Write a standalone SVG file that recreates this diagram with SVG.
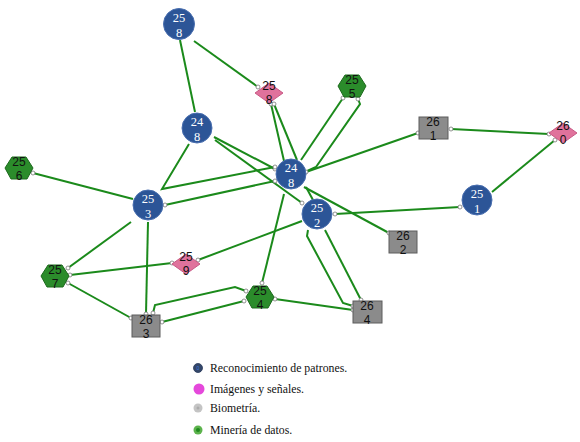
<svg xmlns="http://www.w3.org/2000/svg" width="580" height="442" viewBox="0 0 580 442">
<defs>
<marker id="m" markerWidth="6" markerHeight="6" refX="3" refY="3" markerUnits="userSpaceOnUse"><circle cx="3" cy="3" r="2" fill="#fff" stroke="#777" stroke-width="0.8"/></marker>
<style>
.e{fill:none;stroke:#1b8a1b;stroke-width:2}
.s{marker-start:url(#m)}
.t{marker-end:url(#m)}
.b{fill:#2c5597;stroke:#4a6fb0;stroke-width:1}
.p{fill:#e0729c;stroke:#c85a86;stroke-width:1}
.g{fill:#2b8c2b;stroke:#1d6a1d;stroke-width:1}
.q{fill:#8b8b8b;stroke:#5c5c5c;stroke-width:1}
.wt{font-family:"Liberation Serif",serif;font-size:12.5px;fill:#fff;text-anchor:middle}
.kt{font-family:"Liberation Sans",sans-serif;font-size:12px;fill:#111;text-anchor:middle}
.lt{font-family:"Liberation Serif",serif;font-size:11.8px;fill:#111}
</style>
</defs>
<rect width="580" height="442" fill="#fff"/>
<g id="edges">
<path class="e" d="M180,40 L195,112"/>
<path class="e t" d="M194,41 L258,87"/>
<path class="e s" d="M271,104 L284,161"/>
<path class="e s" d="M274,104 L297,160"/>
<path class="e s" d="M343,98 L301,160"/>
<path class="e s" d="M358,99 L360,104 L316,167 L305,172"/>
<path class="e s t" d="M306,172 L418,133"/>
<path class="e s t" d="M451,129 L549,134"/>
<path class="e s" d="M555,140 L492,192"/>
<path class="e s t" d="M335,214 L460,207"/>
<path class="e t" d="M214,137 L275,169"/>
<path class="e t" d="M215,140 L302,203"/>
<path class="e t" d="M189,144 L162,189 L275,167"/>
<path class="e s t" d="M165,205 L275,181"/>
<path class="e s" d="M33,173 L133,199"/>
<path class="e t" d="M131,222 L68,268"/>
<path class="e t" d="M148,222 L146,314"/>
<path class="e s t" d="M70,275 L172,263"/>
<path class="e s" d="M198,260 L302,221"/>
<path class="e s t" d="M68,283 L131,318"/>
<path class="e s t" d="M153,313 L155,305 L235,287 L246,291"/>
<path class="e s t" d="M162,322 L244,301"/>
<path class="e t" d="M284,194 L262,283"/>
<path class="e s t" d="M275,299 L353,310"/>
<path class="e t" d="M308,230 L307,236 L343,303 L353,306"/>
<path class="e t" d="M325,230 L361,300"/>
<path class="e" d="M306,187 L313,200"/>
<path class="e t" d="M304,187 L389,233"/>
</g>
<g id="n258b"><circle class="b" cx="179" cy="24" r="15.5"/><text class="wt" x="179" y="22">25</text><text class="wt" x="179" y="37">8</text></g>
<g id="n248t"><circle class="b" cx="197" cy="128" r="15"/><text class="wt" x="197" y="126">24</text><text class="wt" x="197" y="141">8</text></g>
<g id="n248c"><circle class="b" cx="291" cy="174" r="15"/><text class="wt" x="291" y="172">24</text><text class="wt" x="291" y="187">8</text></g>
<g id="n253"><circle class="b" cx="148" cy="205" r="15"/><text class="wt" x="148" y="203">25</text><text class="wt" x="148" y="218">3</text></g>
<g id="n252"><circle class="b" cx="317" cy="214" r="15"/><text class="wt" x="317" y="212">25</text><text class="wt" x="317" y="227">2</text></g>
<g id="n251"><circle class="b" cx="477" cy="200" r="15"/><text class="wt" x="477" y="198">25</text><text class="wt" x="477" y="213">1</text></g>
<g id="n258d"><polygon class="p" points="255,93 269,83 283,93 269,103"/><text class="kt" x="269" y="90">25</text><text class="kt" x="269" y="104">8</text></g>
<g id="n260"><polygon class="p" points="549,133 563,123 577,133 563,143"/><text class="kt" x="563" y="130">26</text><text class="kt" x="563" y="144">0</text></g>
<g id="n259"><polygon class="p" points="172,264 186,254 200,264 186,274"/><text class="kt" x="186" y="261">25</text><text class="kt" x="186" y="275">9</text></g>
<g id="n255"><polygon class="g" points="345,75 359,75 366,86 360,97 344,97 338,86"/><text class="kt" x="352" y="84">25</text><text class="kt" x="352" y="98">5</text></g>
<g id="n256"><polygon class="g" points="12,157 26,157 33,168 27,179 11,179 5,168"/><text class="kt" x="19" y="166">25</text><text class="kt" x="19" y="180">6</text></g>
<g id="n257"><polygon class="g" points="48,265 62,265 69,276 63,287 47,287 41,276"/><text class="kt" x="55" y="274">25</text><text class="kt" x="55" y="288">7</text></g>
<g id="n254"><polygon class="g" points="253,286 267,286 274,297 268,308 252,308 246,297"/><text class="kt" x="260" y="295">25</text><text class="kt" x="260" y="309">4</text></g>
<g id="n261"><rect class="q" x="419" y="117" width="29" height="22"/><text class="kt" x="433" y="126">26</text><text class="kt" x="433" y="140">1</text></g>
<g id="n262"><rect class="q" x="389" y="231" width="28" height="22"/><text class="kt" x="403" y="240">26</text><text class="kt" x="403" y="254">2</text></g>
<g id="n263"><rect class="q" x="132" y="315" width="28" height="22"/><text class="kt" x="146" y="324">26</text><text class="kt" x="146" y="338">3</text></g>
<g id="n264"><rect class="q" x="353" y="301" width="29" height="22"/><text class="kt" x="367" y="310">26</text><text class="kt" x="367" y="324">4</text></g>
<g id="legend">
<circle cx="198" cy="368" r="4.5" fill="#34476a" stroke="#27395a" stroke-width="0.8"/>
<text x="198" y="370" font-family="Liberation Sans,sans-serif" font-size="5" fill="#3a7be0" text-anchor="middle">0</text>
<text class="lt" x="210" y="372">Reconocimiento de patrones.</text>
<circle cx="199" cy="389" r="5.5" fill="#e548db"/>
<text class="lt" x="210" y="393">Imágenes y señales.</text>
<circle cx="198" cy="408" r="4.5" fill="#c4c4c4"/>
<circle cx="198" cy="408" r="1.5" fill="#ababab"/>
<text class="lt" x="210" y="412">Biometría.</text>
<circle cx="198" cy="430" r="4.5" fill="#5cb34c"/>
<circle cx="198" cy="430" r="2" fill="#1f8a1f"/>
<text class="lt" x="210" y="434">Minería de datos.</text>
</g>
</svg>
